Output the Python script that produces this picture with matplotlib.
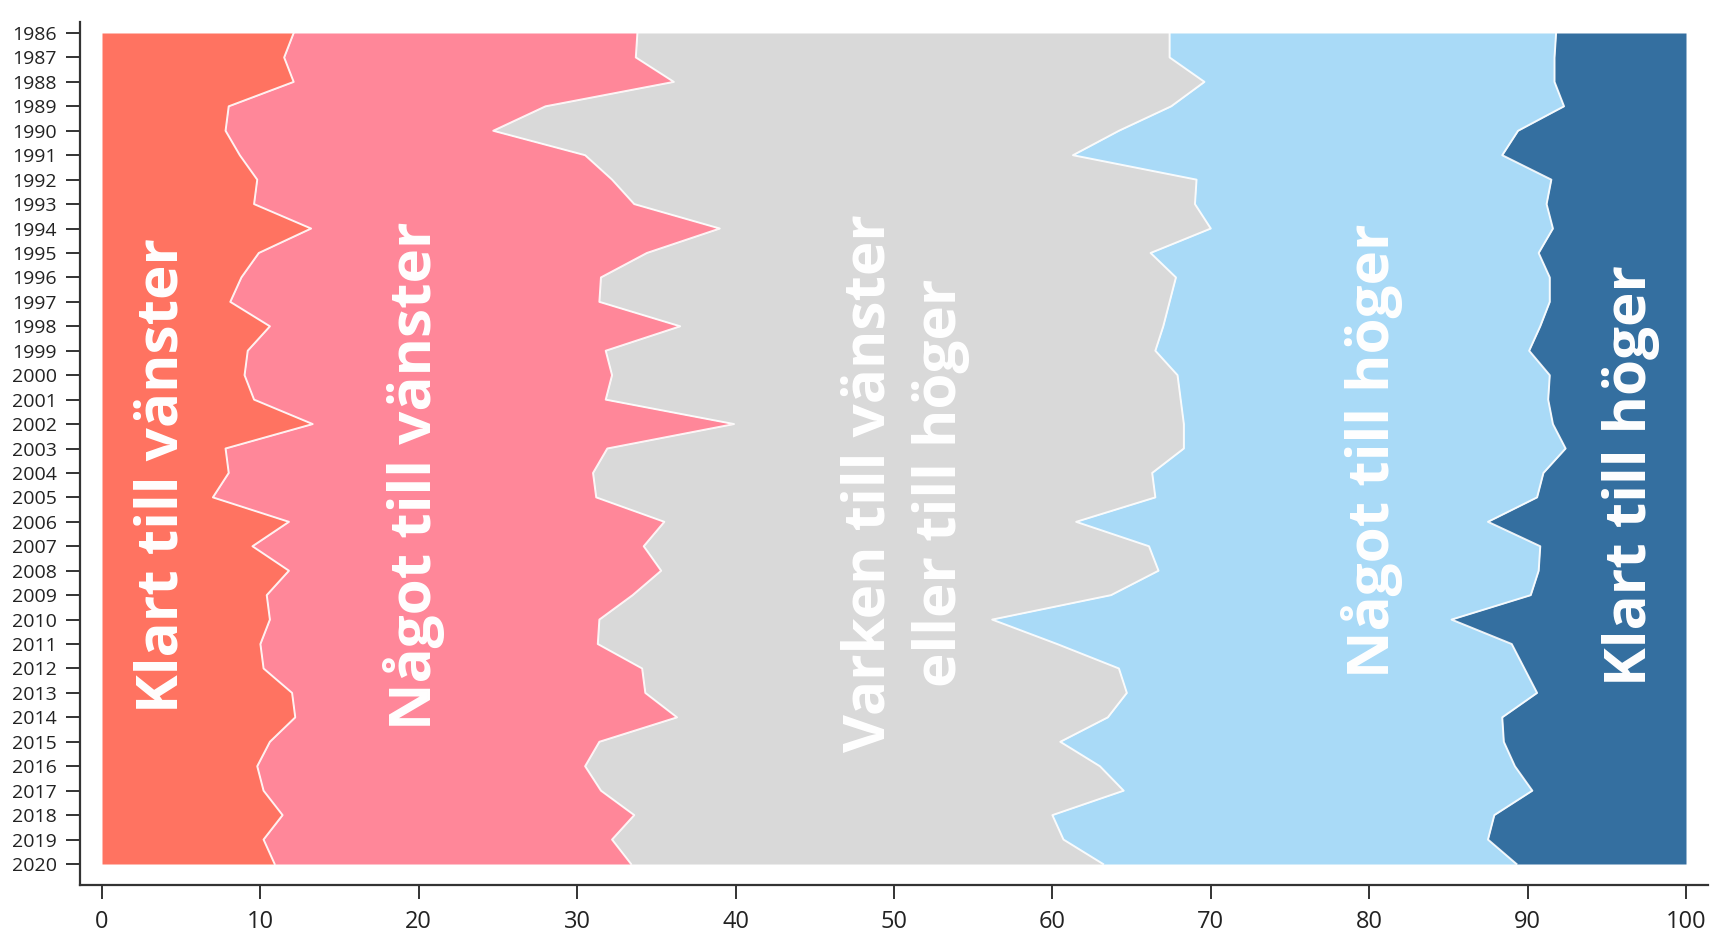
import matplotlib
matplotlib.use("Agg")
import matplotlib.pyplot as plt
import numpy as np

years = list(range(1986, 2021))
categories = ["Klart till vänster", "Något till vänster",
              "Varken till vänster\neller till höger", "Något till höger",
              "Klart till höger"]

klart_vanster = [12.1, 11.5, 12.1, 8.0, 7.8, 8.7, 9.8, 9.6, 13.2, 9.9, 8.8, 8.1, 10.6, 9.2, 9.0,
                 9.6, 13.3, 7.8, 8.0, 7.0, 11.8, 9.5, 11.8, 10.4, 10.6, 10.0, 10.2, 12.0, 12.2,
                 10.6, 9.8, 10.2, 11.4, 10.2, 10.9]
nagot_vanster = [21.7, 22.2, 24.0, 20.0, 16.9, 21.8, 22.4, 24.0, 25.8, 24.5, 22.7, 23.3, 25.9, 22.6,
                 23.2, 22.2, 26.6, 24.1, 23.0, 24.2, 23.7, 24.7, 23.5, 23.1, 20.8, 21.3, 23.9, 22.3,
                 24.1, 20.8, 20.7, 21.3, 22.2, 22.0, 22.5]
varken = [33.6, 33.7, 33.5, 39.5, 39.5, 30.8, 36.9, 35.4, 31.0, 31.8, 36.3, 36.0, 30.5, 34.7, 35.7,
          36.3, 28.4, 36.4, 35.3, 35.3, 26.0, 31.9, 31.4, 30.2, 24.8, 29.0, 30.1, 30.4, 27.2, 29.1,
          32.5, 33.0, 26.4, 28.5, 29.8]
nagot_hoger = [24.4, 24.3, 22.1, 24.8, 25.2, 27.1, 22.4, 22.2, 21.6, 24.5, 23.6, 24.0, 23.8, 23.6,
               23.5, 23.2, 23.3, 24.1, 24.7, 24.1, 26.0, 24.7, 24.0, 26.5, 29.0, 28.7, 25.6, 25.9,
               24.9, 28.0, 26.2, 25.8, 27.9, 26.8, 26.1]
klart_hoger = [8.2, 8.3, 8.3, 7.7, 10.6, 11.6, 8.5, 8.8, 8.4, 9.3, 8.6, 8.6, 9.2, 9.9, 8.6, 8.7, 8.4,
               7.6, 9.0, 9.4, 12.5, 9.2, 9.3, 9.8, 14.8, 11.0, 10.2, 9.4, 11.6, 11.5, 10.8, 9.7,
               12.1, 12.5, 10.7]

series = [klart_vanster, nagot_vanster, varken, nagot_hoger, klart_hoger]
colors = ["#FF7361", "#FF8799", "#D9D9D9", "#A9DAF7", "#346FA0"]
label_pos = [(3.8, 2004.1), (19.7, 2004.1), (50.7, 2004.4), (80.2, 2003.1), (96.5, 2004.1)]
xticks = [0, 10, 20, 30, 40, 50, 60, 70, 80, 90, 100]

W, H = 1717, 938
fig = plt.figure(figsize=(W / 100, H / 100), dpi=100)
ax = fig.add_axes([80 / W, 1 - 885 / H, (1708 - 80) / W, (885 - 22) / H])

yrs = np.array(years)
left = np.zeros(len(years))
for vals, col in zip(series, colors):
    right = left + np.array(vals)
    ax.fill_betweenx(yrs, left, right, color=col, lw=0, zorder=1)
    left = right

cum = np.zeros(len(years))
for vals in series[:-1]:
    cum = cum + np.array(vals)
    ax.plot(cum, yrs, color="white", lw=1.4, alpha=0.9, zorder=2)

for (x, y), lab in zip(label_pos, categories):
    ax.text(x, y, lab, rotation=90, ha="center", va="center", color="white",
            fontsize=42, fontweight="bold", family="Open Sans", multialignment="center",
            linespacing=1.3, zorder=3)

px_per_unit = (1686 - 102) / 100
px_per_year = (864 - 33) / 34
ax.set_xlim(-(102 - 80) / px_per_unit, 100 + (1708 - 1686) / px_per_unit)
ax.set_ylim(2020 + (885 - 864) / px_per_year, 1986 - (33 - 22) / px_per_year)

ax.set_yticks(years)
ax.set_yticklabels([str(y) for y in years], fontsize=14, family="Open Sans", color="#222222")
ax.set_xticks(xticks)
ax.set_xticklabels([str(v) for v in xticks], fontsize=17, family="Open Sans", color="#222222")
ax.tick_params(axis="y", length=10, width=1.4, pad=6.5, color="#333333")
ax.tick_params(axis="x", length=10, width=1.4, pad=8, color="#333333")
for s in ["top", "right"]:
    ax.spines[s].set_visible(False)
for s in ["left", "bottom"]:
    ax.spines[s].set_linewidth(1.6)
    ax.spines[s].set_color("#333333")

fig.savefig("out.png", dpi=100)
